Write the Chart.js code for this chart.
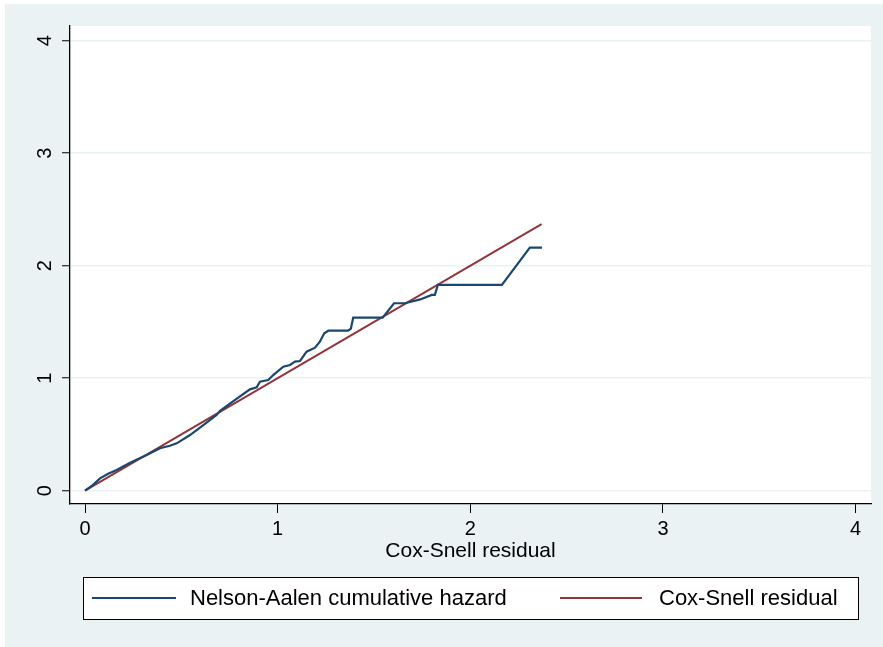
<!DOCTYPE html>
<html>
<head>
<meta charset="utf-8">
<script src="https://cdn.jsdelivr.net/npm/chart.js@4"></script>
<style>
  html, body { margin: 0; padding: 0; background: #fff; }
  #wrap { width: 883px; height: 647px; }
</style>
</head>
<body>
<div id="wrap"><canvas id="chart" width="883" height="647"></canvas></div>
<script>
// Nelson-Aalen cumulative hazard
const naX = [0, 0.04, 0.078, 0.12, 0.164, 0.234, 0.32, 0.389, 0.44, 0.476, 0.545, 0.614, 0.683,
  0.701, 0.77, 0.856, 0.891, 0.908, 0.951, 0.977, 1.029, 1.064, 1.09, 1.116, 1.15, 1.194, 1.219,
  1.242, 1.263, 1.366, 1.38, 1.392, 1.545, 1.604, 1.661, 1.74, 1.8, 1.816, 1.832, 2.164, 2.309, 2.372];
const naY = [0, 0.05, 0.11, 0.15, 0.184, 0.249, 0.317, 0.377, 0.4, 0.421, 0.495, 0.584, 0.673,
  0.71, 0.797, 0.901, 0.919, 0.969, 0.984, 1.028, 1.102, 1.117, 1.147, 1.153, 1.236, 1.271, 1.324,
  1.399, 1.422, 1.422, 1.44, 1.538, 1.538, 1.666, 1.666, 1.7, 1.74, 1.74, 1.83, 1.83, 2.16, 2.16];
// reference line
const csX = [0, 2.37];
const csY = [0, 2.37];
const labels = ['Nelson-Aalen cumulative hazard', 'Cox-Snell residual'];
const xTitle = 'Cox-Snell residual';
const yTicks = [0, 1, 2, 3, 4];

const font = 'Liberation Sans, Arial, Helvetica, sans-serif';
const navy = '#1a476f';
const maroon = '#90353b';
const bg = '#eaf2f3';

const pts = (xs, ys) => xs.map((x, i) => ({x: x, y: ys[i]}));

const stataLook = {
  id: 'stataLook',
  beforeDraw(chart) {
    const c = chart.ctx, a = chart.chartArea;
    c.save();
    c.fillStyle = '#fff';
    c.fillRect(0, 0, chart.width, chart.height);
    c.fillStyle = bg;
    c.fillRect(5, 4, chart.width - 5, chart.height - 4);
    c.fillStyle = '#fff';
    c.fillRect(a.left, a.top, a.right - a.left, a.bottom - a.top);
    c.restore();
  },
  afterDraw(chart) {
    const c = chart.ctx;
    const ys = chart.scales.y;
    c.save();
    // rotated y tick labels
    c.fillStyle = '#000';
    c.font = '20px ' + font;
    c.textAlign = 'center';
    c.textBaseline = 'middle';
    yTicks.forEach(v => {
      const py = ys.getPixelForValue(v);
      c.save();
      c.translate(45, py);
      c.rotate(-Math.PI / 2);
      c.fillText(String(v), 0, 0);
      c.restore();
    });
    // legend box
    const L = 83, T = 577, R = 858, B = 619, my = 598;
    c.fillStyle = '#fff';
    c.fillRect(L, T, R - L, B - T);
    c.strokeStyle = '#000';
    c.lineWidth = 1;
    c.strokeRect(L + 0.5, T + 0.5, R - L, B - T);
    const items = [
      {x0: 92, x1: 176, tx: 190, ds: chart.data.datasets[0]},
      {x0: 560, x1: 642, tx: 659, ds: chart.data.datasets[1]}
    ];
    c.font = '22px ' + font;
    items.forEach(it => {
      c.strokeStyle = it.ds.borderColor;
      c.lineWidth = 2;
      c.beginPath();
      c.moveTo(it.x0, my);
      c.lineTo(it.x1, my);
      c.stroke();
      c.fillStyle = '#000';
      c.textAlign = 'left';
      c.textBaseline = 'middle';
      c.fillText(it.ds.label, it.tx, my + 1);
    });
    c.restore();
  }
};

new Chart(document.getElementById('chart').getContext('2d'), {
  type: 'scatter',
  data: {
    datasets: [
      {label: labels[0], data: pts(naX, naY), showLine: true, borderColor: navy, borderWidth: 2.2,
       pointRadius: 0, tension: 0},
      {label: labels[1], data: pts(csX, csY), showLine: true, borderColor: maroon, borderWidth: 2,
       pointRadius: 0, tension: 0}
    ]
  },
  options: {
    responsive: false,
    animation: false,
    layout: {padding: {left: 0, right: 12, top: 26, bottom: 85}},
    plugins: {legend: {display: false}, tooltip: {enabled: false}},
    scales: {
      x: {
        type: 'linear', min: -0.078, max: 4.08,
        afterFit(s) { s.height = 58; },
        ticks: {stepSize: 1, includeBounds: false, color: '#000', padding: 4,
                font: {family: font, size: 20, lineHeight: 1.2}},
        grid: {drawOnChartArea: false, tickLength: 9, tickColor: '#000', tickWidth: 1},
        border: {display: true, color: '#000', width: 1.3},
        title: {display: true, text: xTitle, color: '#000', padding: 0,
                font: {family: font, size: 21, lineHeight: 1}}
      },
      y: {
        type: 'linear', min: -0.118, max: 4.13,
        afterFit(s) { s.width = 70; },
        ticks: {stepSize: 1, includeBounds: false, display: false},
        grid: {color: bg, lineWidth: 1.5, tickLength: 8, tickColor: '#000', tickWidth: 1},
        border: {display: true, color: '#000', width: 1.3}
      }
    }
  },
  plugins: [stataLook]
});
</script>
</body>
</html>
